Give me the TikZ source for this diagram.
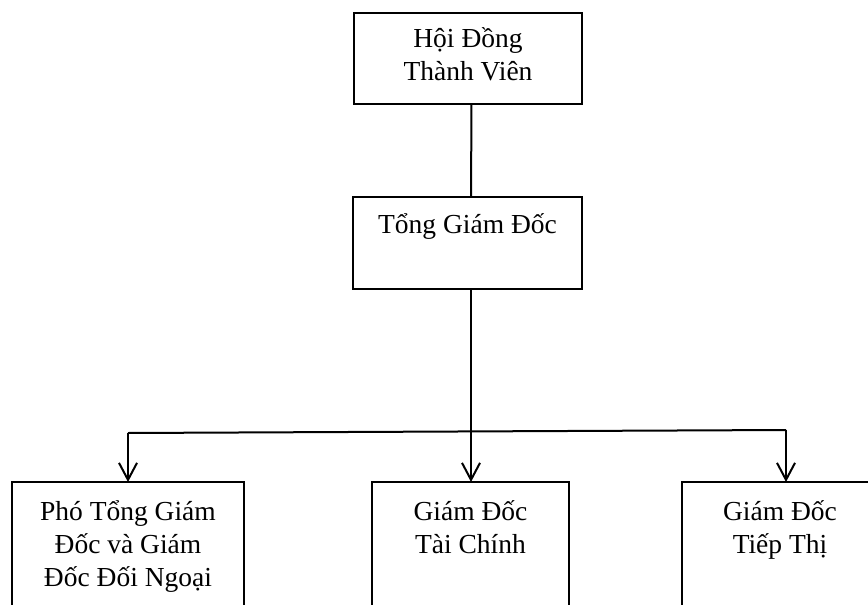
\documentclass[tikz,border=0pt]{standalone}
\usepackage{fontspec}
\setmainfont{Liberation Serif}
\usetikzlibrary{arrows.meta}
\begin{document}
\begin{tikzpicture}[x=1pt,y=-1pt,
  box/.style={draw, line width=2pt, inner sep=0pt, outer sep=0pt, anchor=north west},
  txt/.style={align=center, inner sep=0pt, font=\fontsize{27.5}{33}\selectfont},
  conn/.style={line width=2pt},
  arr/.style={line width=2pt, -{Straight Barb[length=17pt,width=18pt,line width=2pt]}}]
\clip (0,0) rectangle (868,605);
\useasboundingbox (0,0) rectangle (868,605);
% boxes
\node[box, minimum width=228pt, minimum height=91pt] (hd) at (354,13) {};
\node[box, minimum width=229pt, minimum height=92pt] (tg) at (353,197) {};
\node[box, minimum width=232pt, minimum height=160pt] (pt) at (12,482) {};
\node[box, minimum width=197pt, minimum height=160pt] (tc) at (372,482) {};
\node[box, minimum width=196pt, minimum height=160pt] (tt) at (682,482) {};
% texts (base anchor = baseline of last line)
\node[txt, anchor=base] (hdt) at ([yshift=-67pt]hd.north) {Hội Đồng\\Thành Viên};
\node[txt, anchor=base] (tgt) at ([yshift=-36pt]tg.north) {Tổng Giám Đốc};
\node[txt, anchor=base] (ptt) at ([yshift=-104pt]pt.north) {Phó Tổng Giám\\Đốc và Giám\\Đốc Đối Ngoại};
\node[txt, anchor=base] (tct) at ([yshift=-71pt]tc.north) {Giám Đốc\\Tài Chính};
\node[txt, anchor=base] (ttt) at ([yshift=-71pt]tt.north) {Giám Đốc\\Tiếp Thị};
% connectors
\coordinate (busL) at (128,433);
\coordinate (busM) at (471,431.5);
\coordinate (busR) at (786,430);
\draw[conn] ([xshift=3.5pt]hd.south) -- ([xshift=3.5pt]tg.north);
\draw[conn] (tg.south -| busM) -- (busM);
\draw[conn] (busL) -- (busR);
\draw[arr] (busL) -- (pt.north -| busL);
\draw[arr] (busM) -- (tc.north -| busM);
\draw[arr] (busR) -- (tt.north -| busR);
\end{tikzpicture}
\end{document}
